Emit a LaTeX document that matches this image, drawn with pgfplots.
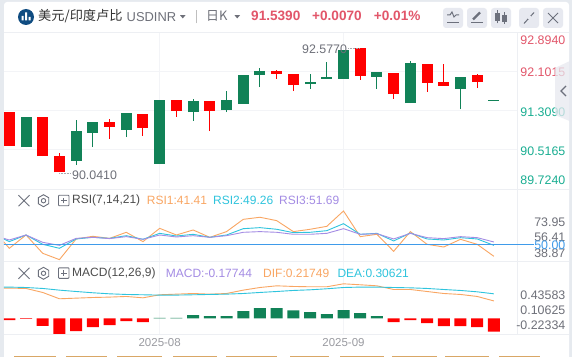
\documentclass[border=0pt]{standalone}
\usepackage{pgfplots}
\usepackage{pgfplotstable}
\usepackage{fontspec}
\pgfplotsset{compat=1.18}
\setmainfont{Liberation Sans}
\newfontfamily\cjk{Noto Sans CJK SC}
\definecolor{cred}{HTML}{FF0000}
\definecolor{cgreen}{HTML}{118257}
\definecolor{lblred}{HTML}{E2566A}
\definecolor{lblgreen}{HTML}{1AAE92}
\definecolor{lblgray}{HTML}{6E7079}
\definecolor{gridc}{HTML}{F3F4F7}
\definecolor{bordc}{HTML}{EDEFF3}
\definecolor{rorange}{HTML}{F9A663}
\definecolor{rcyan}{HTML}{2FC4DD}
\definecolor{rpurple}{HTML}{A48CE4}
\definecolor{rblue}{HTML}{3F9BEA}
\definecolor{iconbg}{HTML}{E7E9F0}
\definecolor{icond}{HTML}{6C707C}
\definecolor{bgout}{HTML}{E6EAEF}
\definecolor{tanc}{HTML}{D9A766}
\definecolor{logoc}{HTML}{0F4C81}
\pgfplotstableread{
x o c h l
0 91.268 90.578 91.268 90.578
2 91.167 90.374 91.167 90.374
3 90.374 90.041 90.435 90.041
6 91.065 90.964 91.126 90.720
8 91.228 90.943 91.228 90.781
10 91.512 91.289 91.512 91.167
12 91.492 91.289 91.492 90.882
16 92.102 92.041 92.122 91.939
17 92.041 91.817 92.041 91.695
21 92.569 92.000 92.577 91.919
23 92.061 91.634 92.061 91.533
25 92.244 91.858 92.244 91.675
26 91.878 91.797 92.244 91.797
28 92.020 91.878 92.041 91.756
}\redcandles
\pgfplotstableread{
x o c h l
1 91.167 90.557 91.167 90.557
4 90.882 90.273 91.106 90.191
5 91.065 90.842 91.065 90.557
7 91.248 90.903 91.248 90.760
9 91.512 90.212 91.512 90.212
11 91.492 91.268 91.533 91.086
13 91.512 91.309 91.695 91.268
14 92.020 91.431 92.020 91.431
15 92.102 92.020 92.162 91.776
18 91.878 91.837 92.041 91.736
19 91.980 91.939 92.284 91.939
20 92.528 91.939 92.528 91.939
22 92.081 91.980 92.081 91.736
24 92.264 91.451 92.305 91.451
27 91.980 91.736 91.980 91.329
29 91.522 91.512 91.522 91.512
}\greencandles
\pgfplotstableread{
x a b c
-1 67.7 62.7 60.8
0 45.4 53.1 55.0
1 60.8 60.8 60.8
2 39.6 50.0 52.3
3 32.3 45.4 48.8
4 56.2 56.2 56.9
5 59.3 58.1 58.1
6 56.9 56.9 56.6
7 63.9 60.0 58.9
8 53.1 55.8 55.8
9 68.5 62.7 60.8
10 60.8 59.6 58.5
11 66.6 61.6 60.0
12 58.1 58.1 58.1
13 64.7 60.8 60.0
14 78.9 68.1 63.9
15 81.3 69.3 64.7
16 77.4 67.4 63.9
17 64.7 63.5 61.6
18 67.4 63.9 61.6
19 70.8 65.8 62.7
20 88.6 73.9 68.1
21 58.9 61.6 61.6
22 61.6 62.7 62.3
23 41.9 53.9 56.2
24 64.7 63.1 62.7
25 50.0 56.2 57.7
26 46.9 55.0 56.6
27 55.8 57.7 58.9
28 50.0 56.2 57.7
29 36.1 48.8 52.7
}\rsitable
\pgfplotstableread{
x dif dea
-1 .377 .390
0 .377 .390
1 .373 .385
2 .323 .373
3 .244 .352
4 .252 .335
5 .260 .319
6 .265 .306
7 .273 .298
8 .256 .294
9 .294 .290
10 .302 .290
11 .310 .294
12 .302 .298
13 .310 .302
14 .352 .310
15 .385 .323
16 .406 .335
17 .398 .348
18 .394 .356
19 .394 .369
20 .431 .385
21 .419 .390
22 .406 .390
23 .360 .385
24 .360 .381
25 .335 .373
26 .310 .360
27 .298 .348
28 .273 .331
29 .217 .306
}\macdlines
\pgfplotstableread{
x v
0 -0.023
1 -0.006
2 -0.094
3 -0.196
4 -0.160
5 -0.110
6 -0.085
7 -0.035
8 -0.048
23 -0.048
24 -0.023
25 -0.060
26 -0.098
27 -0.098
28 -0.110
29 -0.165
}\histred
\pgfplotstableread{
x v
9 0.006
10 0.006
11 0.040
12 0.027
13 0.027
14 0.090
15 0.127
16 0.127
17 0.100
18 0.077
19 0.052
20 0.102
21 0.065
22 0.027
}\histgreen
\pgfplotsset{panel/.style={
  scale only axis, anchor=south west, width=513.3pt,
  xmin=-0.317, xmax=30.4, clip=true,
  axis line style={draw=none}, tick style={draw=none},
  xtick={9,20}, xticklabels={}, ymajorgrids, xmajorgrids,
  grid style={gridc, line width=0.9pt},
  yticklabels={},
}}
\newcommand{\rlab}[3]{\node[anchor=east,font=\fontsize{12.4}{14}\selectfont,text=#3,inner sep=0] at (565.5pt,#1pt) {#2};}
\begin{document}
\begin{tikzpicture}[x=1pt,y=1pt]
\useasboundingbox (0,0) rectangle (572,357);
\fill[bgout] (0,0) rectangle (572,357);
\fill[white,rounded corners=3pt] (4,-5) rectangle (569,355);
% price panel
\begin{axis}[panel, at={(4pt,169pt)}, height=156pt, ymin=89.724, ymax=92.894,
  ytick={90.5165,91.309,92.1015}]
\addplot[draw=none, forget plot, error bars/.cd, y dir=plus, y explicit, error mark=none,
  error bar style={cred, line width=1pt}] table[x=x,y=l,y error plus expr=\thisrow{h}-\thisrow{l},y error minus expr=0] {\redcandles};
\addplot[draw=none, forget plot, error bars/.cd, y dir=plus, y explicit, error mark=none,
  error bar style={cred, line width=11pt}] table[x=x,y=c,y error plus expr=\thisrow{o}-\thisrow{c},y error minus expr=0] {\redcandles};
\addplot[draw=none, forget plot, error bars/.cd, y dir=plus, y explicit, error mark=none,
  error bar style={cgreen, line width=1pt}] table[x=x,y=l,y error plus expr=\thisrow{h}-\thisrow{l},y error minus expr=0] {\greencandles};
\addplot[draw=none, forget plot, error bars/.cd, y dir=plus, y explicit, error mark=none,
  error bar style={cgreen, line width=11pt}] table[x=x,y=c,y error plus expr=\thisrow{o}-\thisrow{c},y error minus expr=0] {\greencandles};
\end{axis}
% RSI panel
\begin{axis}[panel, at={(4pt,96pt)}, height=72pt, ymin=30.7, ymax=114, ytick=\empty]
\addplot[rorange, line width=0.9pt] table[x=x,y=a] {\rsitable};
\addplot[rcyan, line width=0.9pt] table[x=x,y=b] {\rsitable};
\addplot[rpurple, line width=0.9pt] table[x=x,y=c] {\rsitable};
\addplot[rblue, line width=0.9pt] coordinates {(-1,50) (31,50)};
\end{axis}
% MACD panel
\begin{axis}[panel, at={(4pt,23pt)}, height=73pt, ymin=-0.196, ymax=0.716, ytick=\empty,
  xticklabels={2025-08,2025-09}, xticklabel style={text=lblgray!70, font=\fontsize{11.5}{13}\selectfont, inner sep=0, yshift=-3pt},
  typeset ticklabels with strut]
\addplot[ybar, bar width=12pt, bar shift=0pt, fill=cred, draw=none] table[x=x,y=v] {\histred};
\addplot[ybar, bar width=12pt, bar shift=0pt, fill=cgreen, draw=none] table[x=x,y=v] {\histgreen};
\addplot[rorange, line width=0.9pt] table[x=x,y=dif] {\macdlines};
\addplot[rcyan, line width=0.9pt] table[x=x,y=dea] {\macdlines};
\end{axis}
% structural lines
\draw[bordc, line width=0.9pt] (4,325) -- (569,325);
\draw[bordc, line width=0.9pt] (4,168) -- (569,168);
\draw[bordc, line width=0.9pt] (4,96) -- (569,96);
\draw[bordc, line width=0.9pt] (4,23) -- (569,23);
\draw[bordc, line width=0.9pt] (517.3,23) -- (517.3,325);
\draw[rblue, line width=0.9pt] (517.3,112.7) -- (534,112.7);
% price labels
\rlab{316.3}{92.8940}{lblred}
\rlab{284.7}{92.1015}{lblred}
\rlab{244.3}{91.3090}{lblgreen}
\rlab{205.5}{90.5165}{lblgreen}
\rlab{177}{89.7240}{lblgreen}
\rlab{134.3}{73.95}{lblgray}
\rlab{120}{56.41}{lblgray}
\rlab{104}{38.87}{lblgray}
\rlab{112}{50.00}{rblue}
\rlab{61.7}{0.43583}{lblgray}
\rlab{46.3}{0.10625}{lblgray}
\rlab{31.3}{-0.22334}{lblgray}
% high and low annotations
\node[anchor=west,inner sep=0,font=\fontsize{12.4}{14}\selectfont,text=lblgray] at (72,181.5) {90.0410};
\node[anchor=west,inner sep=0,font=\fontsize{12.4}{14}\selectfont,text=lblgray] at (302,307.3) {92.5770};
\draw[lblgray!60,line width=0.5pt,densely dotted] (59,183.5) -- (70,183.5);
\draw[lblgray!60,line width=0.5pt,densely dotted] (348,309) -- (360,309);
% header
\fill[logoc] (26,340) circle (8);
\fill[white] (21.5,336.5) rectangle (23.5,341) (25,336.5) rectangle (27,344.5) (28.5,336.5) rectangle (30.5,340);
\node[anchor=west,inner sep=0,font=\cjk\fontsize{13.2}{15}\selectfont,text=black!80] at (38,341) {美元/印度卢比};
\node[anchor=west,inner sep=0,font=\fontsize{12.9}{15}\selectfont,text=lblgray] at (126.5,340) {USDINR};
\fill[lblgray] (180,341.8) -- (185.5,341.8) -- (182.75,338.6) -- cycle;
\draw[gray!50,line width=0.6pt] (196.3,333.5) -- (196.3,346.5);
\node[anchor=west,inner sep=0,font=\cjk\fontsize{12.9}{15}\selectfont,text=lblgray] at (206,341) {日K};
\fill[lblgray] (234.5,341.8) -- (240,341.8) -- (237.25,338.6) -- cycle;
\node[anchor=west,inner sep=0,font=\bfseries\fontsize{13.6}{15}\selectfont,text=lblred] at (251,341) {91.5390};
\node[anchor=west,inner sep=0,font=\bfseries\fontsize{13.6}{15}\selectfont,text=lblred] at (312,341) {+0.0070};
\node[anchor=west,inner sep=0,font=\bfseries\fontsize{13.6}{15}\selectfont,text=lblred] at (373.7,341) {+0.01\%};
% toolbar buttons
\foreach \a in {443,467,491,519,543} \fill[iconbg,rounded corners=3pt] (\a,329) rectangle (\a+20,349);
\draw[icond,line width=1pt] (447,342) -- (450,342) -- (452,345) -- (454,340) -- (456,342) -- (459,342);
\draw[icond,line width=1pt] (447,334.5) -- (459,334.5);
\draw[icond,line width=2.4pt] (473,337.5) -- (480,344.5);
\draw[icond,line width=1pt] (471,334.5) -- (483,334.5);
\fill[icond] (495,336) rectangle (500,344);
\draw[icond,line width=0.8pt] (497.5,333.5) -- (497.5,346.5);
\fill[icond] (502,335) rectangle (507,342);
\draw[icond,line width=0.8pt] (504.5,333) -- (504.5,344.5);
\draw[icond,line width=1pt] (524,333.5) -- (534,344.5);
\fill[iconbg] (527.5,337.5) rectangle (530.5,340.5);
\draw[icond,line width=1pt] (548,334) -- (558,344) (548,344) -- (558,334);
% side tab
\fill[iconbg,opacity=0.75] (572,297) -- (555,289) -- (555,242) -- (572,235) -- cycle;
\draw[icond,line width=1.1pt] (566,271) -- (561,266) -- (566,261);
% panel icons
\foreach \yy in {156.3,83.7} {
  \draw[icond,line width=0.9pt] (18.5,\yy-5.5) -- (29.5,\yy+5.5) (18.5,\yy+5.5) -- (29.5,\yy-5.5);
  \draw[icond,line width=0.9pt] (43.5,\yy+6) -- (48.7,\yy+3) -- (48.7,\yy-3) -- (43.5,\yy-6) -- (38.3,\yy-3) -- (38.3,\yy+3) -- cycle;
  \draw[icond,line width=0.9pt] (43.5,\yy) circle (2.2);
  \draw[icond,line width=0.9pt,rounded corners=0.8pt] (58.5,\yy-5) rectangle (69,\yy+5.5);
  \draw[icond,line width=0.9pt] (61,\yy+0.2) -- (66.5,\yy+0.2) (63.75,\yy-2.6) -- (63.75,\yy+3);
}
\def\F{\fontsize{12}{14}\selectfont}
\node[anchor=west,inner sep=0,font=\F,text=black!70] at (72,156.3) {RSI(7,14,21)};
\node[anchor=west,inner sep=0,font=\F,text=rorange] at (146.7,156.3) {RSI1:41.41};
\node[anchor=west,inner sep=0,font=\F,text=rcyan] at (213,156.3) {RSI2:49.26};
\node[anchor=west,inner sep=0,font=\F,text=rpurple] at (279,156.3) {RSI3:51.69};
\node[anchor=west,inner sep=0,font=\F,text=black!70] at (72,83.7) {MACD(12,26,9)};
\node[anchor=west,inner sep=0,font=\F,text=rpurple] at (165.7,83.7) {MACD:-0.17744};
\node[anchor=west,inner sep=0,font=\F,text=rorange] at (263,83.7) {DIF:0.21749};
\node[anchor=west,inner sep=0,font=\F,text=rcyan] at (337.3,83.7) {DEA:0.30621};
% bottom strip
\foreach \a/\b in {14/56,66/107,117/162,173/217,226/277,290/329,340/384,392/437,445/489,499/540}
  \draw[tanc,line width=1.2pt] (\a,0.6) -- (\b,0.6);
\end{tikzpicture}
\end{document}
